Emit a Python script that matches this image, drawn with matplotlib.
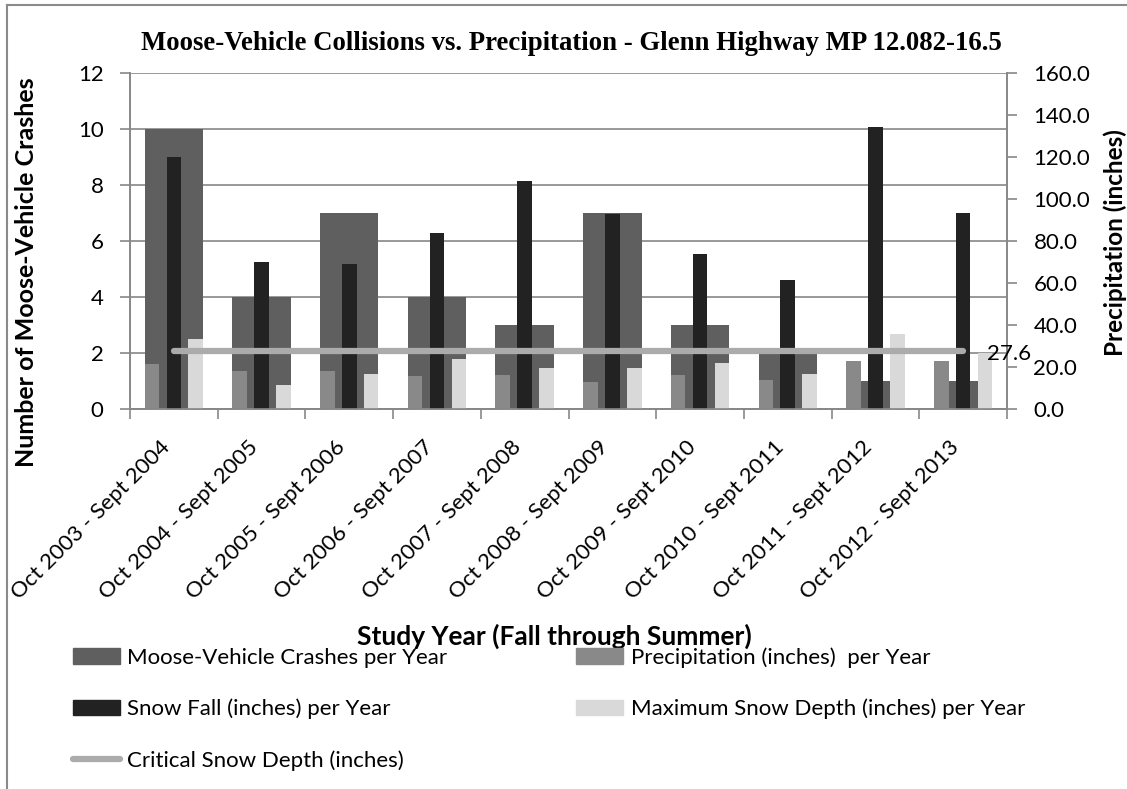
import numpy as np
import matplotlib
matplotlib.use("Agg")
import matplotlib.pyplot as plt
from matplotlib.patches import Patch
from matplotlib.lines import Line2D
from matplotlib.ticker import FixedLocator, NullFormatter

plt.rcParams['font.family'] = ['Lato', 'DejaVu Sans']

years = ["Oct 2003 - Sept 2004", "Oct 2004 - Sept 2005", "Oct 2005 - Sept 2006",
         "Oct 2006 - Sept 2007", "Oct 2007 - Sept 2008", "Oct 2008 - Sept 2009",
         "Oct 2009 - Sept 2010", "Oct 2010 - Sept 2011", "Oct 2011 - Sept 2012",
         "Oct 2012 - Sept 2013"]
crashes = [10, 4, 7, 4, 3, 7, 3, 2, 1, 1]
precip = [21.6, 18.3, 18.3, 15.9, 16.4, 12.9, 16.0, 14.0, 22.7, 23.0]
snowfall = [120.0, 70.0, 69.2, 83.8, 108.8, 93.0, 74.0, 61.4, 134.5, 93.5]
snow_depth = [33.5, 11.6, 16.7, 23.8, 19.7, 19.7, 21.8, 16.7, 35.6, 26.9]
critical_depth = 27.6

c_crash = "#5f5f5f"
c_precip = "#898989"
c_snow = "#222222"
c_depth = "#d9d9d9"
c_crit = "#ababab"
c_axis = "#878787"

fig = plt.figure(figsize=(11.27, 7.89), dpi=100)
W, H = 1127, 789
ax = fig.add_axes([130 / W, 1 - 409 / H, 877 / W, 336 / H])
ax2 = ax.twinx()

x = np.arange(len(years))
ax.bar(x, crashes, width=0.667, color=c_crash, zorder=2)
bw = 0.167
ax2.bar(x - 0.25, precip, width=bw, color=c_precip, zorder=2)
ax2.bar(x, snowfall, width=bw, color=c_snow, zorder=2)
ax2.bar(x + 0.25, snow_depth, width=bw, color=c_depth, zorder=2)
ax2.plot([x[0], x[-1]], [critical_depth, critical_depth], color=c_crit, lw=4.5,
         solid_capstyle="round", zorder=3)
ax2.annotate(f"{critical_depth:.1f}", (x[-1], critical_depth), xytext=(17, -2),
             textcoords="offset points", ha="left", va="center", fontsize=16)

ax.set_xlim(-0.5, len(years) - 0.5)
ax.set_ylim(0, 12)
ax2.set_ylim(0, 160)
ax.set_yticks(np.arange(0, 13, 2))
ax2.set_yticks(np.arange(0, 161, 20))
ax2.set_yticklabels([f"{v:.1f}" for v in np.arange(0, 161, 20)])

# category boundaries carry the tick marks, labels sit just left of centre
ax.xaxis.set_major_locator(FixedLocator(np.arange(-0.5, len(years), 1)))
ax.xaxis.set_major_formatter(NullFormatter())
ax.xaxis.set_minor_locator(FixedLocator(x - 0.08))
ax.set_xticklabels(years, minor=True, rotation=45, ha="right", va="center",
                   rotation_mode="anchor", fontsize=16)
ax.tick_params(axis="x", which="minor", length=0, pad=25)
ax.tick_params(axis="x", which="major", length=7, color=c_axis, width=1.2)
ax.tick_params(axis="y", length=7, color=c_axis, width=1.2, labelsize=16, pad=12)
ax2.tick_params(axis="y", length=7, color=c_axis, width=1.2, labelsize=16, pad=12)

ax.grid(axis="y", color=c_axis, lw=1.2)
ax.set_axisbelow(True)
for a in (ax, ax2):
    a.spines["top"].set_visible(False)
    for s in ("left", "right", "bottom"):
        a.spines[s].set_color(c_axis)
        a.spines[s].set_linewidth(1.2)

fig.text(27 / W, 1 - 272 / H, "Number of Moose-Vehicle Crashes", rotation=90,
         ha="center", va="center", fontsize=18, weight="bold")
fig.text(1115 / W, 1 - 243 / H, "Precipitation (inches)", rotation=90,
         ha="center", va="center", fontsize=17.5, weight="bold")
fig.text(571 / W, 1 - 43 / H,
         "Moose-Vehicle Collisions vs. Precipitation - Glenn Highway MP 12.082-16.5",
         ha="center", va="center", fontsize=19.3, weight="bold",
         family="Liberation Serif")
fig.text(554 / W, 1 - 636 / H, "Study Year (Fall through Summer)",
         ha="center", va="center", fontsize=19, weight="bold")

handles = [Patch(color=c_crash), Patch(color=c_snow),
           Line2D([], [], color=c_crit, lw=4.5, solid_capstyle="round"),
           Patch(color=c_precip), Patch(color=c_depth)]
labels = ["Moose-Vehicle Crashes per Year", "Snow Fall (inches) per Year",
          "Critical Snow Depth (inches)", "Precipitation (inches)  per Year",
          "Maximum Snow Depth (inches) per Year"]
fig.legend(handles, labels, ncol=2, loc="upper left",
           bbox_to_anchor=(73 / W, 1 - 647 / H), frameon=False, fontsize=16,
           handlelength=2.1, handletextpad=0.35, columnspacing=5.8,
           labelspacing=1.4, borderpad=0, borderaxespad=0)

# chart area border (top and left edges)
fig.add_artist(Line2D([7 / W, 7 / W], [0, 1 - 5 / H], color="#8a8a8a", lw=1.5))
fig.add_artist(Line2D([7 / W, 1], [1 - 5 / H, 1 - 5 / H], color="#8a8a8a", lw=1.5))

fig.savefig("out.png", dpi=100)
